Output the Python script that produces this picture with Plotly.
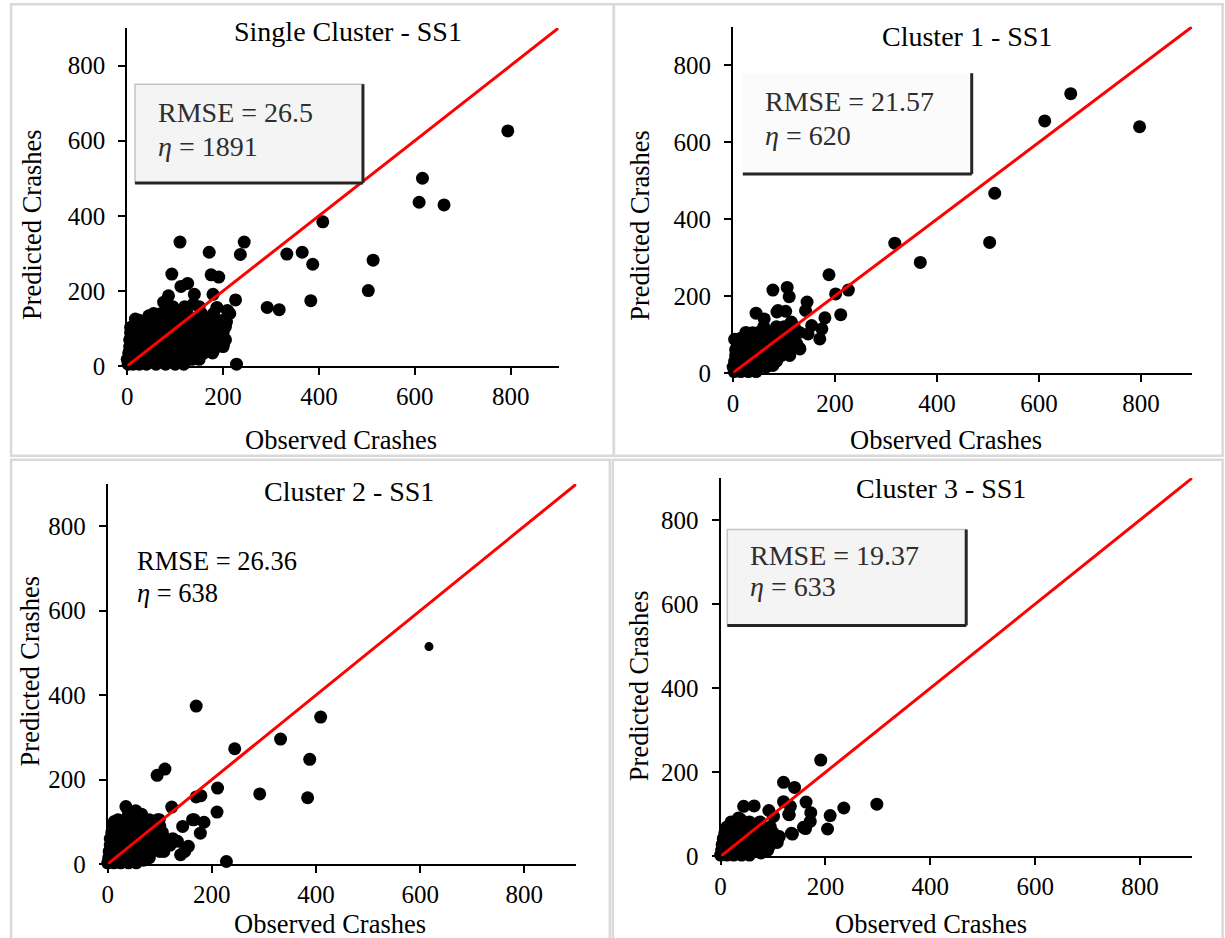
import plotly.graph_objects as go

# ---------------- data (observed, predicted) ----------------
titles = ["Single Cluster - SS1", "Cluster 1 - SS1", "Cluster 2 - SS1", "Cluster 3 - SS1"]
rmse_values = ["26.5", "21.57", "26.36", "19.37"]
eta_values = ["1891", "620", "638", "633"]
tick_vals = [0, 200, 400, 600, 800]
x_title = "Observed Crashes"
y_title = "Predicted Crashes"

obs_single = [794, 616, 609, 661, 408, 513, 503, 333, 365, 387, 383, 292, 317, 244, 236, 110, 171, 175, 191, 93,
              226, 228, 179, 126, 112, 140, 86, 76, 209, 207, 201, 187, 214, 193, 187, 166, 180, 145, 104, 17,
              45, 69, 7, 138,
              2, 12, 25, 40, 60, 80, 100, 118,
              0, 15, 35, 55, 75, 95, 115, 135, 150,
              3, 20, 40, 60, 80, 100, 120, 140, 160, 178,
              5, 25, 45, 65, 85, 105, 125, 145, 165, 185, 200,
              5, 25, 45, 65, 85, 105, 125, 145, 165, 185, 205,
              7, 25, 45, 65, 85, 105, 125, 150, 175, 200,
              12, 30, 50, 70, 90, 110, 130, 155, 180, 205,
              25, 50, 75, 95, 115, 140, 165, 200,
              55, 80, 105, 125, 155, 180,
              95, 120, 150]
pred_single = [626, 500, 436, 429, 384, 282, 201, 298, 303, 271, 174, 156, 150, 330, 297, 330, 303, 243, 237, 245,
               176, 5, 191, 220, 212, 191, 187, 170, 148, 117, 59, 156, 140, 85, 121, 121, 41, 23, 14, 125,
               134, 139, 103, 165,
               5, 5, 5, 5, 5, 5, 5, 5,
               18, 18, 18, 18, 18, 18, 18, 18, 18,
               35, 35, 35, 35, 35, 35, 35, 35, 35, 35,
               52, 52, 52, 52, 52, 52, 52, 52, 52, 52, 52,
               70, 70, 70, 70, 70, 70, 70, 70, 70, 70, 70,
               88, 88, 88, 88, 88, 88, 88, 88, 88, 88,
               105, 105, 105, 105, 105, 105, 105, 105, 105, 105,
               122, 122, 122, 122, 122, 122, 122, 122,
               140, 140, 140, 140, 140, 140,
               158, 158, 158]

obs_c1 = [797, 662, 611, 513, 503, 317, 367, 188, 226, 201, 211, 180, 78, 106, 110, 145, 142, 103, 86, 45,
          174, 170, 147, 130, 3, 38, 61, 154, 114, 88, 131, 111, 78, 46,
          2, 15, 30, 45,
          0, 15, 30, 50, 65,
          3, 18, 35, 50, 70, 85,
          5, 20, 35, 55, 75, 95,
          5, 20, 40, 60, 80, 100, 115,
          10, 30, 50, 70, 90, 110, 125,
          15, 35, 55, 75, 95, 115,
          25, 50, 70, 90, 110, 130,
          60, 85, 100, 120]
pred_c1 = [640, 726, 655, 467, 339, 337, 287, 255, 215, 205, 151, 143, 215, 222, 198, 184, 162, 160, 158, 155,
           114, 88, 101, 64, 87, 104, 140, 123, 132, 162, 62, 45, 19, 6,
           3, 3, 3, 3,
           15, 15, 15, 15, 15,
           30, 30, 30, 30, 30, 30,
           45, 45, 45, 45, 45, 45,
           60, 60, 60, 60, 60, 60, 60,
           75, 75, 75, 75, 75, 75, 75,
           90, 90, 90, 90, 90, 90,
           105, 105, 105, 105, 105, 105,
           120, 120, 120, 120]

obs_c2 = [617, 170, 409, 332, 244, 388, 292, 384, 110, 95, 211, 210, 179, 170, 228, 35, 54, 123, 185, 163,
          178, 144, 148, 140, 155, 114, 99, 13, 69, 134, 108, 77, 96, 150, 166,
          0, 12, 25, 40, 55,
          2, 15, 30, 45, 60, 80,
          3, 18, 35, 50, 65, 85, 100,
          5, 20, 35, 50, 65, 80, 95, 120,
          5, 20, 38, 55, 70, 90, 110, 125,
          8, 25, 40, 55, 70, 90, 105,
          10, 25, 45, 60, 80, 100,
          20, 40, 60, 80,
          40, 65]
pred_c2 = [515, 374, 348, 296, 273, 248, 166, 157, 225, 210, 180, 123, 162, 159, 6, 136, 126, 135, 99, 105,
           73, 89, 30, 22, 42, 47, 105, 101, 9, 54, 30, 92, 105, 38, 105,
           3, 3, 3, 3, 3,
           15, 15, 15, 15, 15, 15,
           30, 30, 30, 30, 30, 30, 30,
           45, 45, 45, 45, 45, 45, 45, 45,
           60, 60, 60, 60, 60, 60, 60, 60,
           75, 75, 75, 75, 75, 75, 75,
           90, 90, 90, 90, 90, 90,
           105, 105, 105, 105,
           118, 118]

obs_c3 = [298, 235, 209, 204, 191, 120, 141, 135, 158, 163, 172, 171, 120, 133, 131, 44, 64, 92, 34, 101,
          77, 162, 137, 130, 108, 112, 38,
          0, 12, 25, 40, 55,
          2, 15, 30, 45, 60, 75, 90,
          3, 18, 33, 48, 63, 78, 95,
          5, 20, 35, 50, 65, 80, 100,
          8, 22, 38, 52, 68, 85, 100,
          12, 28, 45, 60, 75, 95,
          20, 40, 55, 75]
pred_c3 = [124, 115, 97, 65, 229, 176, 164, 55, 69, 129, 104, 83, 130, 119, 99, 119, 120, 109, 91, 95,
           8, 66, 53, 100, 33, 47, 88,
           3, 3, 3, 3, 3,
           15, 15, 15, 15, 15, 15, 15,
           28, 28, 28, 28, 28, 28, 28,
           42, 42, 42, 42, 42, 42, 42,
           56, 56, 56, 56, 56, 56, 56,
           70, 70, 70, 70, 70, 70,
           82, 82, 82, 82]

series = [(obs_single, pred_single), (obs_c1, pred_c1), (obs_c2, pred_c2), (obs_c3, pred_c3)]
diag = [0, 900]

# ---------------- layout helpers (pixel -> paper) ----------------
W, H = 1225, 938
def X(px):
    return ((px - 4.9) / 0.9955) / W
def Y(py):
    return 1 - ((py - 0.7) / 0.9865) / H

# plot areas in pixels: (left, right, top, bottom)
areas = [(126.2, 557.7, 28.7, 367.3),
         (732.3, 1191.5, 27.5, 374.0),
         (106.6, 575.5, 485.4, 866.0),
         (719.8, 1191.8, 479.3, 858.3)]

FONT = "Liberation Serif, Times New Roman, serif"

fig = go.Figure()
for i, (obs, pred) in enumerate(series):
    ax = "" if i == 0 else str(i + 1)
    sizes = [9 if (i == 2 and o > 600) else 13 for o in obs]
    fig.add_trace(go.Scatter(x=obs, y=pred, mode="markers", xaxis="x" + ax, yaxis="y" + ax,
                             marker=dict(color="#000000", size=sizes, opacity=1, line=dict(width=0)),
                             cliponaxis=False, showlegend=False, hoverinfo="skip"))
    fig.add_trace(go.Scatter(x=diag, y=diag, mode="lines", xaxis="x" + ax, yaxis="y" + ax,
                             line=dict(color="#ff0000", width=3), cliponaxis=False,
                             showlegend=False, hoverinfo="skip"))

axis_common = dict(range=[0, 900], tickvals=tick_vals, showgrid=False, zeroline=False,
                   showline=True, linecolor="black", linewidth=2, ticks="outside", ticklen=7,
                   tickwidth=2, tickcolor="black",
                   tickfont=dict(family=FONT, size=25, color="black"), fixedrange=True)

layout = dict(autosize=True, margin=dict(l=0, r=0, t=0, b=0),
              paper_bgcolor="white", plot_bgcolor="rgba(0,0,0,0)", showlegend=False)
for i, (l, r, t, b) in enumerate(areas):
    ax = "" if i == 0 else str(i + 1)
    layout["xaxis" + ax] = dict(axis_common, domain=[X(l), X(r)], anchor="y" + ax, ticklabelstandoff=0)
    layout["yaxis" + ax] = dict(axis_common, domain=[Y(b), Y(t)], anchor="x" + ax, ticklabelstandoff=8)
fig.update_layout(**layout)

shapes = []
# panel borders
for (x0, x1, y0, y1) in [(10, 613, 5, 457), (613, 1222, 5, 457), (10, 609, 461, 950), (612, 1222, 461, 950)]:
    shapes.append(dict(type="rect", xref="paper", yref="paper", x0=X(x0), x1=X(x1), y0=Y(y1), y1=Y(y0),
                       line=dict(color="#d9d9d9", width=2.5), fillcolor="rgba(0,0,0,0)", layer="below"))

# text boxes (left, right, top, bottom, draw top/left border)
boxes = [(134, 362, 85, 184, True), (742, 971, 74, 175, False), (726.5, 965.5, 531, 627, True)]
for (x0, x1, y0, y1, full) in boxes:
    shapes.append(dict(type="rect", xref="paper", yref="paper", x0=X(x0), x1=X(x1), y0=Y(y1), y1=Y(y0),
                       line=dict(color="#c4c4c4" if full else "rgba(0,0,0,0)", width=1.5),
                       fillcolor="#f4f4f4" if full else "#fbfbfb", layer="above"))
    shapes.append(dict(type="line", xref="paper", yref="paper", x0=X(x1), x1=X(x1), y0=Y(y1), y1=Y(y0),
                       line=dict(color="#262626", width=3), layer="above"))
    shapes.append(dict(type="line", xref="paper", yref="paper", x0=X(x0), x1=X(x1), y0=Y(y1), y1=Y(y1),
                       line=dict(color="#262626", width=3), layer="above"))

annotations = []
# chart titles
for txt, (cx, cy) in zip(titles, [(347, 32), (966, 37), (348, 493), (940, 490)]):
    annotations.append(dict(text=txt, x=X(cx), y=Y(cy), xref="paper", yref="paper", showarrow=False,
                            xanchor="center", yanchor="middle", font=dict(family=FONT, size=28, color="black")))
# x axis titles
for (cx, cy) in [(340, 441), (945, 441), (329, 926), (930, 926)]:
    annotations.append(dict(text=x_title, x=X(cx), y=Y(cy), xref="paper", yref="paper", showarrow=False,
                            xanchor="center", yanchor="middle", font=dict(family=FONT, size=26.5, color="black")))
# y axis titles
for (cx, cy) in [(31, 226), (639, 226), (29, 673), (638, 687)]:
    annotations.append(dict(text=y_title, x=X(cx), y=Y(cy), xref="paper", yref="paper", showarrow=False,
                            textangle=-90, xanchor="center", yanchor="middle",
                            font=dict(family=FONT, size=26.5, color="black")))
# RMSE / eta texts
for rm, eta, (lx, y1, y2), col, fs in zip(rmse_values, eta_values,
                                          [(155, 113, 147), (762, 102, 136), (134, 563, 595), (747, 557, 588)],
                                          ["#2e2e2e", "#2e2e2e", "black", "#2e2e2e"],
                                          [28, 28, 26.5, 28]):
    annotations.append(dict(text="RMSE = " + rm, x=X(lx), y=Y(y1), xref="paper", yref="paper",
                            showarrow=False, xanchor="left", yanchor="middle",
                            font=dict(family=FONT, size=fs, color=col)))
    annotations.append(dict(text="<i>η</i> = " + eta, x=X(lx), y=Y(y2), xref="paper", yref="paper",
                            showarrow=False, xanchor="left", yanchor="middle",
                            font=dict(family=FONT, size=fs, color=col)))

fig.update_layout(shapes=shapes, annotations=annotations)
fig.write_html("out.html", default_width="100vw", default_height="100vh",
               config={"displayModeBar": False, "responsive": True},
               post_script=("document.documentElement.style.overflow='hidden';"
                            "document.body.style.margin='0';document.body.style.overflow='hidden';"
                            "Plotly.Plots.resize(document.getElementById('{plot_id}'));"))
